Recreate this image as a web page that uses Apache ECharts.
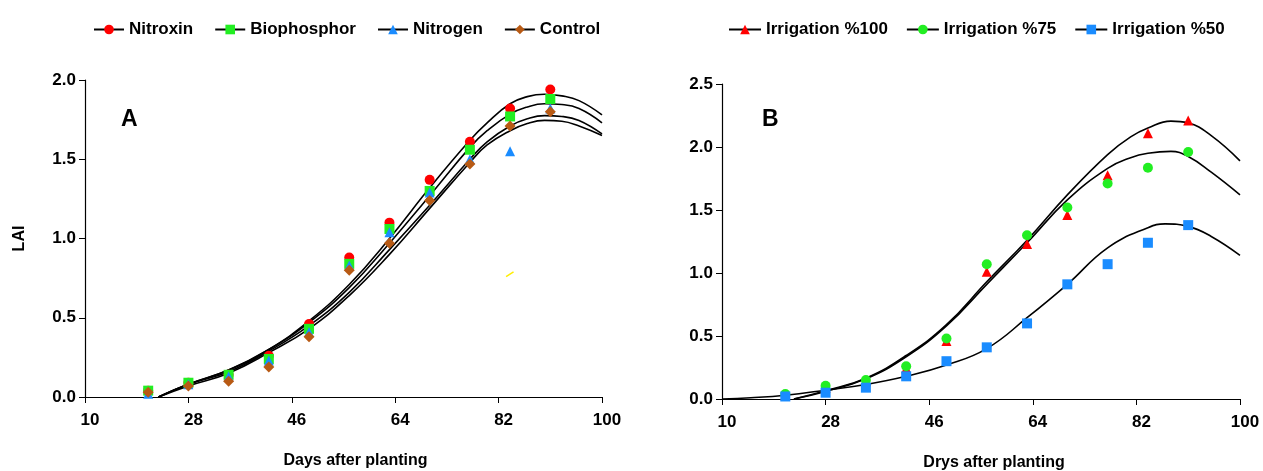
<!DOCTYPE html>
<html><head><meta charset="utf-8">
<script src="https://cdn.jsdelivr.net/npm/echarts@6/dist/echarts.min.js"></script>
<style>html,body{margin:0;padding:0;background:#fff}#c{width:1263px;height:471px}</style>
</head><body><div id="c"></div>
<script>
// ---- Panel A data ----
const days = [21, 28, 35, 42, 49, 56, 63, 70, 77, 84, 91];
const nitroxin    = [0.04, 0.09, 0.14, 0.26, 0.46, 0.88, 1.10, 1.37, 1.61, 1.82, 1.94];
const biophosphor = [0.04, 0.09, 0.14, 0.24, 0.43, 0.84, 1.06, 1.30, 1.56, 1.77, 1.88];
const nitrogen    = [0.02, 0.08, 0.13, 0.23, 0.41, 0.83, 1.04, 1.29, 1.50, 1.55, 1.82];
const control     = [0.03, 0.07, 0.10, 0.19, 0.38, 0.80, 0.97, 1.24, 1.47, 1.71, 1.80];
const fitDaysA     = [22.8, 28, 35, 42, 49, 56, 63, 70, 77, 80, 84, 87, 90, 93, 96, 100];
const fitNitroxin  = [0, 0.08, 0.17, 0.30, 0.48, 0.71, 1.00, 1.32, 1.62, 1.73, 1.85, 1.895, 1.91, 1.90, 1.87, 1.78];
const fitBio       = [0, 0.08, 0.17, 0.30, 0.47, 0.69, 0.97, 1.27, 1.575, 1.68, 1.785, 1.83, 1.85, 1.845, 1.82, 1.73];
const fitNitrogen  = [0, 0.08, 0.16, 0.29, 0.45, 0.66, 0.93, 1.21, 1.50, 1.61, 1.71, 1.755, 1.775, 1.77, 1.745, 1.66];
const fitControl   = [0, 0.07, 0.15, 0.28, 0.43, 0.64, 0.90, 1.19, 1.48, 1.59, 1.68, 1.725, 1.745, 1.74, 1.71, 1.65];
const strayDays = [83.3, 84.6];
const strayVals = [0.76, 0.79];

// ---- Panel B data ----
const irr100 = [0.03, 0.09, 0.14, 0.245, 0.46, 1.01, 1.23, 1.46, 1.775, 2.11, 2.21];
const irr75  = [0.04, 0.105, 0.15, 0.26, 0.48, 1.07, 1.30, 1.52, 1.71, 1.835, 1.96];
const irr50  = [0.02, 0.05, 0.09, 0.18, 0.30, 0.41, 0.60, 0.91, 1.07, 1.24, 1.38];
const fitDaysB = [22.5, 28, 35, 42, 49, 56, 63, 70, 77, 81, 84, 88, 91, 95, 100];
const fit100   = [0, 0.065, 0.165, 0.345, 0.59, 0.93, 1.26, 1.62, 1.94, 2.08, 2.15, 2.205, 2.19, 2.09, 1.89];
const fit75    = [0, 0.06, 0.16, 0.335, 0.58, 0.91, 1.24, 1.58, 1.83, 1.915, 1.95, 1.965, 1.925, 1.80, 1.62];
const fitDays50 = [10, 15, 21, 28, 35, 42, 49, 56, 63, 70, 77, 84, 87, 91, 95, 100];
const fit50     = [0.0, 0.01, 0.03, 0.07, 0.115, 0.18, 0.27, 0.40, 0.645, 0.91, 1.20, 1.36, 1.39, 1.37, 1.29, 1.14];

const xTicks = [10, 28, 46, 64, 82, 100];
const yTicksA = [0, 0.5, 1.0, 1.5, 2.0];
const yTicksB = [0, 0.5, 1.0, 1.5, 2.0, 2.5];

const zip = (xs, ys) => xs.map((x, i) => [x, ys[i]]);
const FONT = 'Liberation Sans';
const txt = { fontFamily: FONT, fontWeight: 'bold', color: '#000' };

function xAxis(gi, name, namePad) {
  return {
    type: 'value', gridIndex: gi, min: 10, max: 100,
    name: name, nameLocation: 'middle', nameGap: 56,
    nameTextStyle: Object.assign({ fontSize: 16, padding: [0, 0, 0, namePad] }, txt),
    axisLine: { lineStyle: { color: '#000', width: 1.2 } },
    axisTick: { show: true, length: 6, lineStyle: { color: '#000' }, customValues: xTicks },
    axisLabel: Object.assign({ fontSize: 17, margin: 15, padding: [0, 0, 0, 10], customValues: xTicks }, txt),
    splitLine: { show: false }
  };
}
function yAxis(gi, max, ticks, name) {
  return {
    type: 'value', gridIndex: gi, min: 0, max: max,
    name: name || '', nameLocation: 'middle', nameGap: 57, nameRotate: 90,
    nameTextStyle: Object.assign({ fontSize: 16 }, txt),
    axisLine: { show: true, lineStyle: { color: '#000', width: 1.2 } },
    axisTick: { show: true, length: 6, lineStyle: { color: '#000' }, customValues: ticks },
    axisLabel: Object.assign({ fontSize: 17, margin: 9, customValues: ticks,
      formatter: v => v.toFixed(1) }, txt),
    splitLine: { show: false }
  };
}
function fit(name, xs, ys, gi, sym, color) {
  return {
    name: name, type: 'line', xAxisIndex: gi, yAxisIndex: gi,
    data: zip(xs, ys), smooth: 0.45, showSymbol: false, symbol: sym, symbolSize: 10,
    lineStyle: { color: '#000', width: 1.6 }, itemStyle: { color: color },
    emphasis: { disabled: true }, z: 2, silent: true
  };
}
function pts(name, ys, gi, sym, color, size) {
  return {
    name: name, type: 'scatter', xAxisIndex: gi, yAxisIndex: gi,
    data: zip(days, ys), symbol: sym, symbolSize: size || 10,
    itemStyle: { color: color, opacity: 1 }, z: 3, silent: true
  };
}

const chart = echarts.init(document.getElementById('c'), null, { renderer: 'canvas' });
chart.setOption({
  animation: false,
  backgroundColor: '#fff',
  grid: [
    { left: 85, top: 80, width: 517, height: 317, containLabel: false, outerBoundsMode: 'none' },
    { left: 722, top: 84, width: 518, height: 315, containLabel: false, outerBoundsMode: 'none' }
  ],
  legend: [
    { left: 88, top: 16, itemWidth: 30, itemHeight: 12, itemGap: 21,
      textStyle: Object.assign({ fontSize: 17 }, txt),
      data: ['Nitroxin', 'Biophosphor', 'Nitrogen', 'Control'] },
    { left: 723, top: 16, itemWidth: 32, itemHeight: 12, itemGap: 18,
      textStyle: Object.assign({ fontSize: 17 }, txt),
      data: ['Irrigation %100', 'Irrigation %75', 'Irrigation %50'] }
  ],
  graphic: [
    { type: 'text', left: 121, top: 108, style: { text: 'A', fontSize: 23, fill: '#000', fontFamily: FONT, fontWeight: 'bold' } },
    { type: 'text', left: 762, top: 108, style: { text: 'B', fontSize: 23, fill: '#000', fontFamily: FONT, fontWeight: 'bold' } }
  ],
  xAxis: [ xAxis(0, 'Days after planting', 24), xAxis(1, 'Drys after planting', 26) ],
  yAxis: [ yAxis(0, 2.0, yTicksA, 'LAI'), yAxis(1, 2.5, yTicksB) ],
  series: [
    fit('Nitroxin', fitDaysA, fitNitroxin, 0, 'circle', '#ff0000'),
    fit('Biophosphor', fitDaysA, fitBio, 0, 'rect', '#22ee22'),
    fit('Nitrogen', fitDaysA, fitNitrogen, 0, 'triangle', '#1a8cff'),
    fit('Control', fitDaysA, fitControl, 0, 'diamond', '#b85a14'),
    pts('p_nitroxin', nitroxin, 0, 'circle', '#ff0000', 10),
    pts('p_bio', biophosphor, 0, 'rect', '#22ee22', 10),
    pts('p_nitrogen', nitrogen, 0, 'triangle', '#1a8cff', 10),
    pts('p_control', control, 0, 'diamond', '#b85a14', 11),
    { name: 'stray', type: 'line', xAxisIndex: 0, yAxisIndex: 0, data: zip(strayDays, strayVals),
      showSymbol: false, lineStyle: { color: '#ffee00', width: 1.5 }, silent: true },
    fit('Irrigation %100', fitDaysB, fit100, 1, 'triangle', '#ff0000'),
    fit('Irrigation %75', fitDaysB, fit75, 1, 'circle', '#22ee22'),
    fit('Irrigation %50', fitDays50, fit50, 1, 'rect', '#1a8cff'),
    pts('p_100', irr100, 1, 'triangle', '#ff0000', 10),
    pts('p_75', irr75, 1, 'circle', '#22ee22', 10),
    pts('p_50', irr50, 1, 'rect', '#1a8cff', 10)
  ]
});
</script>
</body></html>
